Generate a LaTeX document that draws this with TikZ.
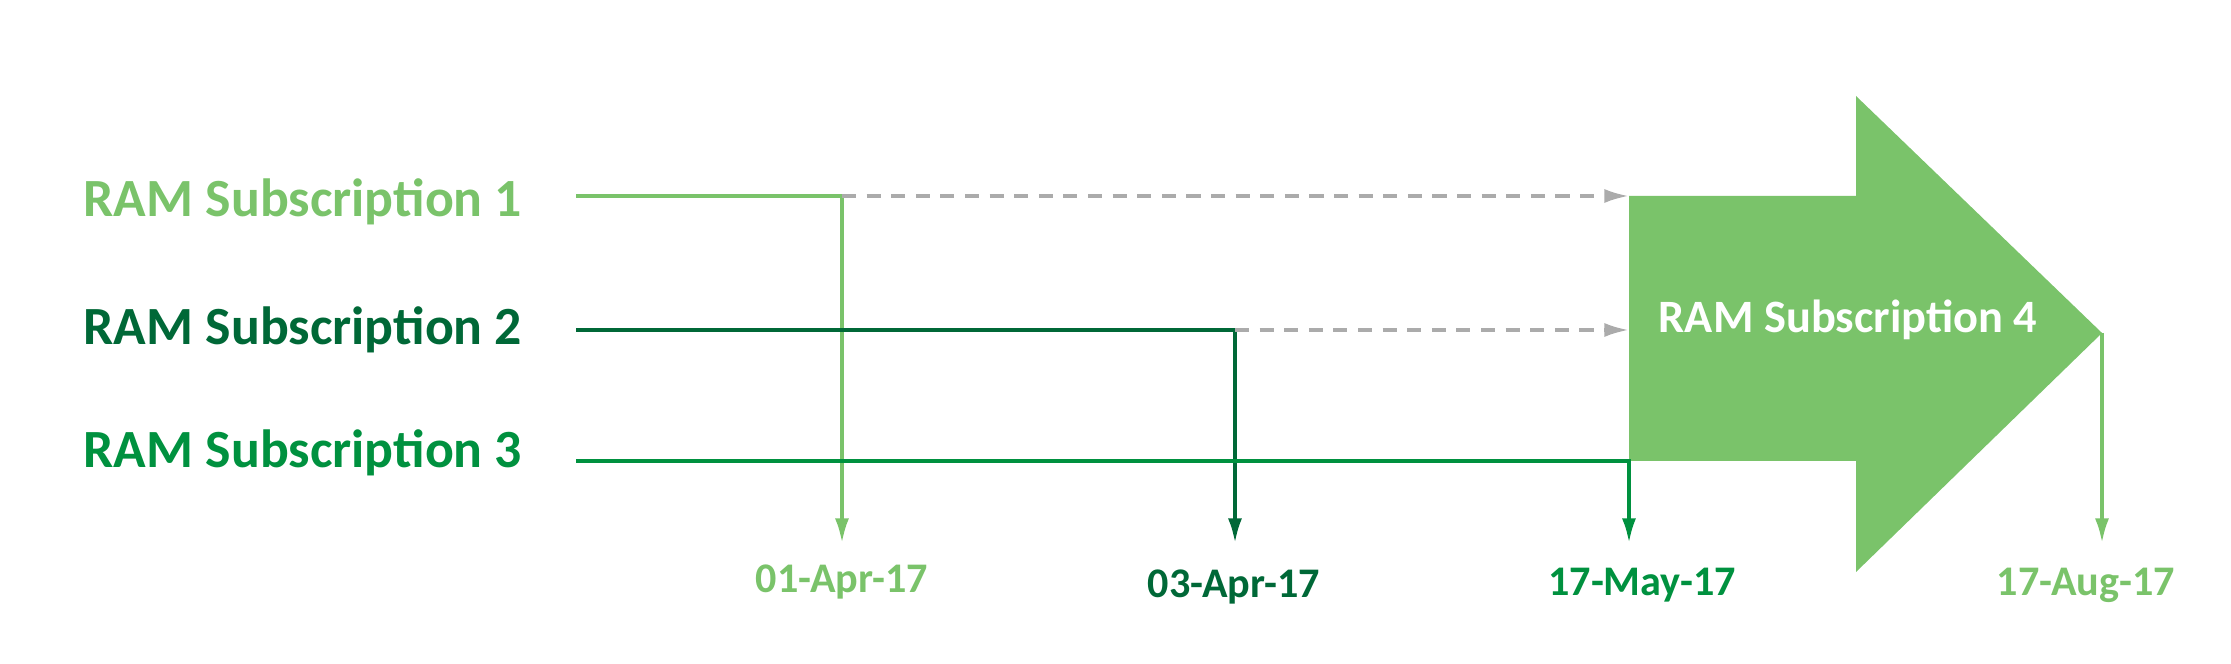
\documentclass[tikz,border=0pt]{standalone}
\usepackage{fontspec}
\setmainfont{Carlito}
\usetikzlibrary{arrows.meta}
\definecolor{lightgreen}{HTML}{7AC36A}
\definecolor{darkgreen}{HTML}{006837}
\definecolor{midgreen}{HTML}{00913F}
\definecolor{carrygray}{HTML}{ABABAB}
\tikzset{>={Latex[length=7pt,width=4pt]}}

\begin{document}
\begin{tikzpicture}[
    sublabel/.style={font=\bfseries\fontsize{15.3}{18}\selectfont, anchor=base west, inner sep=0pt},
    datelabel/.style={font=\bfseries\fontsize{12}{14}\selectfont, anchor=base, inner sep=0pt},
    track/.style={line width=1pt},
    carry/.style={carrygray, line width=1pt, dash pattern=on 4pt off 3pt}]
	\useasboundingbox (0,0) rectangle (22.31,6.64);
	% subscription labels
	\node[sublabel, lightgreen] (sub1) at (0.83,4.47) {RAM Subscription 1};
	\node[sublabel, darkgreen] (sub2) at (0.83,3.19) {RAM Subscription 2};
	\node[sublabel, midgreen] (sub3) at (0.83,1.96) {RAM Subscription 3};
	% track points
	\coordinate (start1) at (5.76,4.68);
	\coordinate (start2) at (5.76,3.34);
	\coordinate (start3) at (5.76,2.03);
	\coordinate (turn1) at (8.42,4.68);
	\coordinate (turn2) at (12.35,3.34);
	\coordinate (turn3) at (16.29,2.03);
	\coordinate (end1) at (8.42,1.21);
	\coordinate (end2) at (12.35,1.21);
	\coordinate (end3) at (16.29,1.21);
	\coordinate (join1) at (16.29,4.68);
	\coordinate (join2) at (16.29,3.34);
	\coordinate (tip) at (21.02,3.31);
	\coordinate (end4) at (21.02,1.21);
	% big arrow
	\fill[lightgreen] (join1) -- (18.56,4.68) -- (18.56,5.68) -- (tip) -- (18.56,0.92)
		-- (18.56,2.03) -- (turn3) -- cycle;
	\node[font=\bfseries\fontsize{13.2}{16}\selectfont, white, anchor=base, inner sep=0pt] (sub4) at (18.48,3.31) {RAM Subscription 4};
	% tracks
	\draw[track, lightgreen, ->] (start1) -- (turn1) -- (end1);
	\draw[track, darkgreen, ->] (start2) -- (turn2) -- (end2);
	\draw[track, midgreen, ->] (start3) -- (turn3) -- (end3);
	\draw[track, lightgreen, ->] (tip) -- (end4);
	\draw[carry, ->] (turn1) -- (join1);
	\draw[carry, ->] (turn2) -- (join2);
	% dates
	\node[datelabel, lightgreen] (date1) at (8.42,0.71) {01-Apr-17};
	\node[datelabel, darkgreen] (date2) at (12.34,0.66) {03-Apr-17};
	\node[datelabel, midgreen] (date3) at (16.42,0.68) {17-May-17};
	\node[datelabel, lightgreen] (date4) at (20.86,0.68) {17-Aug-17};
\end{tikzpicture}
\end{document}
